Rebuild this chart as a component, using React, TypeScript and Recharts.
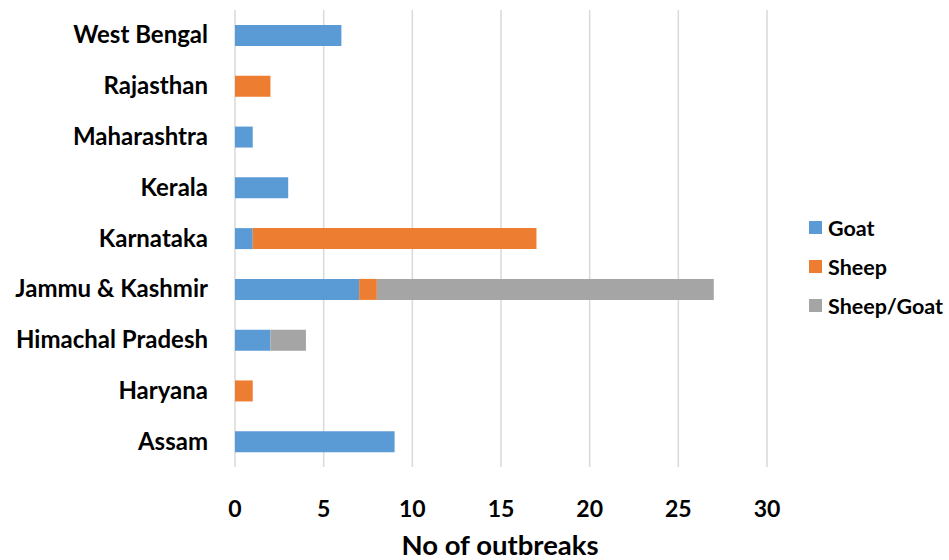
import React from "react";
import { BarChart, Bar, XAxis, YAxis, CartesianGrid } from "recharts";

const states = [
  "West Bengal",
  "Rajasthan",
  "Maharashtra",
  "Kerala",
  "Karnataka",
  "Jammu & Kashmir",
  "Himachal Pradesh",
  "Haryana",
  "Assam",
];
const goat = [6, 0, 1, 3, 1, 7, 2, 0, 9];
const sheep = [0, 2, 0, 0, 16, 1, 0, 1, 0];
const sheepGoat = [0, 0, 0, 0, 0, 19, 2, 0, 0];
const xTicks = [0, 5, 10, 15, 20, 25, 30];

const seriesMeta = [
  { key: "goat", name: "Goat", color: "#5b9bd5" },
  { key: "sheep", name: "Sheep", color: "#ed7d31" },
  { key: "sheepGoat", name: "Sheep/Goat", color: "#a5a5a5" },
];

const data = states.map((s, i) => ({
  state: s,
  goat: goat[i],
  sheep: sheep[i],
  sheepGoat: sheepGoat[i],
}));

const FONT = "Lato, 'Open Sans', sans-serif";

const YTick = (props: any) => {
  const { y, payload } = props;
  return (
    <text x={208} y={y} dy={8} textAnchor="end" fontFamily={FONT} fontWeight={700} fontSize={24} fill="#000">
      {payload.value}
    </text>
  );
};

const XTick = (props: any) => {
  const { x, payload } = props;
  return (
    <text x={x} y={517} textAnchor="middle" fontFamily={FONT} fontWeight={700} fontSize={23} fill="#000">
      {payload.value}
    </text>
  );
};

export default function App() {
  return (
    <div style={{ position: "absolute", left: 0, top: 0, width: 949, height: 560, background: "#fff" }}>
      <BarChart
        width={949}
        height={560}
        data={data}
        layout="vertical"
        margin={{ top: 10, right: 182, bottom: 0, left: 0 }}
        barSize={21}
      >
        <CartesianGrid horizontal={false} vertical={true} stroke="#d9d9d9" strokeWidth={1.5} />
        <XAxis
          type="number"
          domain={[0, 30]}
          ticks={xTicks}
          axisLine={false}
          tickLine={false}
          tick={<XTick />}
          height={93}
        />
        <YAxis
          type="category"
          dataKey="state"
          width={235}
          axisLine={false}
          tickLine={false}
          tick={<YTick />}
        />
        {seriesMeta.map((m) => (
          <Bar
            key={m.key}
            dataKey={m.key}
            name={m.name}
            stackId="a"
            fill={m.color}
            isAnimationActive={false}
          />
        ))}
      </BarChart>
      <div
        style={{
          position: "absolute",
          left: 0,
          width: 1000,
          top: 528,
          textAlign: "center",
          fontFamily: FONT,
          fontWeight: 700,
          fontSize: 27.5,
          color: "#000",
          whiteSpace: "nowrap",
        }}
      >
        No of outbreaks
      </div>
      <div style={{ position: "absolute", left: 809, top: 208 }}>
        {seriesMeta.map((m) => (
          <div
            key={m.key}
            style={{
              display: "flex",
              alignItems: "center",
              height: 39,
              fontFamily: FONT,
              fontWeight: 700,
              fontSize: 21.5,
              color: "#000",
            }}
          >
            <span style={{ display: "inline-block", width: 13, height: 13, background: m.color, marginRight: 6 }} />
            {m.name}
          </div>
        ))}
      </div>
    </div>
  );
}
